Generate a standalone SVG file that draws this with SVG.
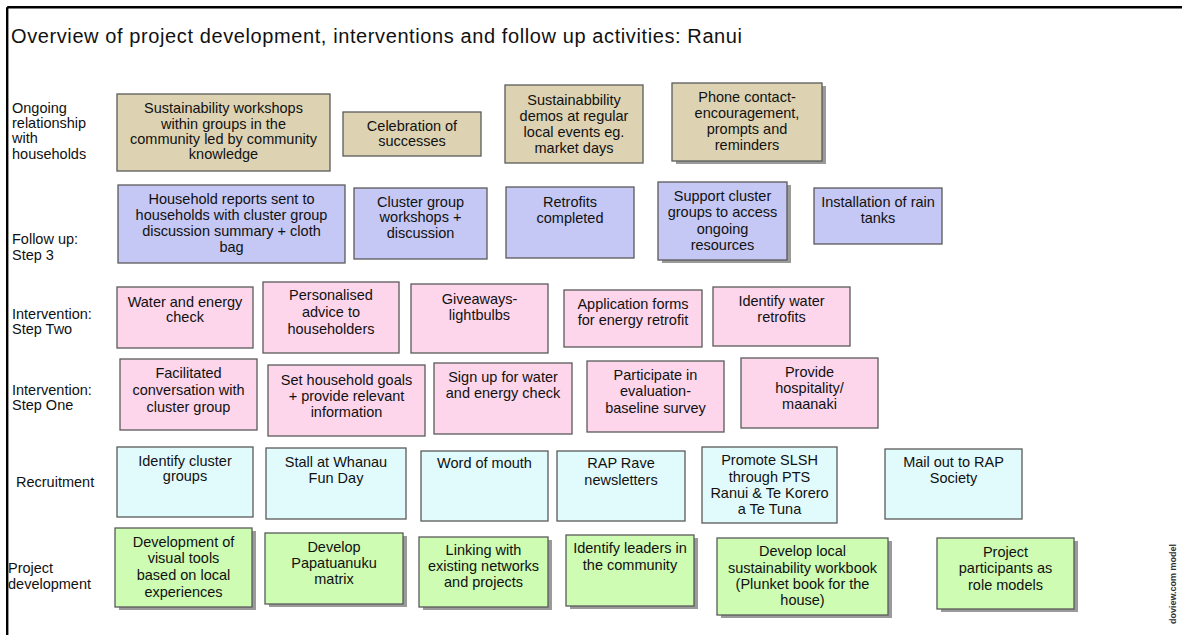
<svg xmlns="http://www.w3.org/2000/svg" width="1182" height="635" viewBox="0 0 1182 635">
<style>
text{font-family:"Liberation Sans",Arial,sans-serif;font-size:14.5px;fill:#111}
.box text{text-anchor:middle}
.box rect{stroke:#5a5a5a;stroke-width:1.3}
.sh{fill:#9a9a9a;stroke:none!important}
.tan rect.f{fill:#ddd3b3}
.lav rect.f{fill:#c5c7f4}
.pink rect.f{fill:#fdd6ec}
.cyan rect.f{fill:#e1fbfd}
.green rect.f{fill:#cdfcb2}
.lab{font-size:14.5px}
.title{font-size:20px}
.wm{font-size:9px;font-weight:bold;fill:#333}
</style>
<rect x="0" y="0" width="1182" height="635" fill="#fff"/>
<g id="frame">
<line x1="7.2" y1="7.2" x2="1182" y2="7.2" stroke="#000" stroke-width="2.4"/>
<line x1="7.2" y1="7.2" x2="7.2" y2="635" stroke="#000" stroke-width="2.4"/>
</g>
<text class="title" x="11" y="43" textLength="731" lengthAdjust="spacing">Overview of project development, interventions and follow up activities: Ranui</text>
<g id="labels">
<text class="lab" x="12" y="113">Ongoing</text>
<text class="lab" x="12" y="128">relationship</text>
<text class="lab" x="12" y="143">with</text>
<text class="lab" x="12" y="159">households</text>
<text class="lab" x="12" y="244">Follow up:</text>
<text class="lab" x="12" y="260">Step 3</text>
<text class="lab" x="12" y="319">Intervention:</text>
<text class="lab" x="12" y="334">Step Two</text>
<text class="lab" x="12" y="395">Intervention:</text>
<text class="lab" x="12" y="410">Step One</text>
<text class="lab" x="16" y="487">Recruitment</text>
<text class="lab" x="8" y="573">Project</text>
<text class="lab" x="8" y="589">development</text>
</g>
<g id="connectors"></g>

<!-- Row 1 -->
<g id="r1b1" class="box tan"><rect class="f" x="117" y="94" width="213" height="77"/><text x="223.5" y="113">Sustainability workshops</text><text x="223.5" y="129">within groups in the</text><text x="223.5" y="144">community led by community</text><text x="223.5" y="159">knowledge</text></g>
<g id="r1b2" class="box tan"><rect class="f" x="343" y="112" width="138" height="44"/><text x="412" y="131">Celebration of</text><text x="412" y="146">successes</text></g>
<g id="r1b3" class="box tan"><rect class="f" x="505" y="85" width="138" height="78"/><text x="574" y="105">Sustainabbility</text><text x="574" y="121">demos at regular</text><text x="574" y="137">local events eg.</text><text x="574" y="153">market days</text></g>
<g id="r1b4" class="box tan"><rect class="sh" x="676" y="86" width="150" height="78"/><rect class="f" x="672" y="83" width="150" height="78"/><text x="747" y="102">Phone contact-</text><text x="747" y="118">encouragement,</text><text x="747" y="134">prompts and</text><text x="747" y="150">reminders</text></g>

<!-- Row 2 -->
<g id="r2b1" class="box lav"><rect class="f" x="118" y="185" width="227" height="78"/><text x="231.5" y="204">Household reports sent to</text><text x="231.5" y="220">households with cluster group</text><text x="231.5" y="236">discussion summary + cloth</text><text x="231.5" y="252">bag</text></g>
<g id="r2b2" class="box lav"><rect class="f" x="354" y="188" width="133" height="71"/><text x="420.5" y="207">Cluster group</text><text x="420.5" y="222">workshops +</text><text x="420.5" y="238">discussion</text></g>
<g id="r2b3" class="box lav"><rect class="f" x="506" y="187" width="128" height="71"/><text x="570" y="207">Retrofits</text><text x="570" y="223">completed</text></g>
<g id="r2b4" class="box lav"><rect class="sh" x="662" y="185" width="129" height="78"/><rect class="f" x="658" y="182" width="129" height="78"/><text x="722.5" y="201">Support cluster</text><text x="722.5" y="217">groups to access</text><text x="722.5" y="234">ongoing</text><text x="722.5" y="250">resources</text></g>
<g id="r2b5" class="box lav"><rect class="f" x="814" y="188" width="128" height="56"/><text x="878" y="207">Installation of rain</text><text x="878" y="223">tanks</text></g>

<!-- Row 3 -->
<g id="r3b1" class="box pink"><rect class="f" x="117" y="287" width="136" height="61"/><text x="185" y="307">Water and energy</text><text x="185" y="322">check</text></g>
<g id="r3b2" class="box pink"><rect class="f" x="263" y="282" width="136" height="71"/><text x="331" y="300">Personalised</text><text x="331" y="317">advice to</text><text x="331" y="334">householders</text></g>
<g id="r3b3" class="box pink"><rect class="f" x="411" y="284" width="137" height="69"/><text x="479.5" y="304">Giveaways-</text><text x="479.5" y="320">lightbulbs</text></g>
<g id="r3b4" class="box pink"><rect class="f" x="564" y="290" width="138" height="57"/><text x="633" y="309">Application forms</text><text x="633" y="325">for energy retrofit</text></g>
<g id="r3b5" class="box pink"><rect class="f" x="713" y="287" width="137" height="59"/><text x="781.5" y="306">Identify water</text><text x="781.5" y="322">retrofits</text></g>

<!-- Row 4 -->
<g id="r4b1" class="box pink"><rect class="f" x="120" y="359" width="137" height="71"/><text x="188.5" y="378">Facilitated</text><text x="188.5" y="395">conversation with</text><text x="188.5" y="412">cluster group</text></g>
<g id="r4b2" class="box pink"><rect class="f" x="268" y="365" width="157" height="71"/><text x="346.5" y="385">Set household goals</text><text x="346.5" y="401">+ provide relevant</text><text x="346.5" y="417">information</text></g>
<g id="r4b3" class="box pink"><rect class="f" x="434" y="363" width="138" height="71"/><text x="503" y="382">Sign up for water</text><text x="503" y="398">and energy check</text></g>
<g id="r4b4" class="box pink"><rect class="f" x="587" y="361" width="137" height="71"/><text x="655.5" y="380">Participate in</text><text x="655.5" y="396">evaluation-</text><text x="655.5" y="413">baseline survey</text></g>
<g id="r4b5" class="box pink"><rect class="f" x="741" y="358" width="137" height="70"/><text x="809.5" y="377">Provide</text><text x="809.5" y="393">hospitality/</text><text x="809.5" y="409">maanaki</text></g>

<!-- Row 5 -->
<g id="r5b1" class="box cyan"><rect class="f" x="117" y="447" width="136" height="70"/><text x="185" y="466">Identify cluster</text><text x="185" y="481">groups</text></g>
<g id="r5b2" class="box cyan"><rect class="f" x="266" y="448" width="140" height="71"/><text x="336" y="467">Stall at Whanau</text><text x="336" y="483">Fun Day</text></g>
<g id="r5b3" class="box cyan"><rect class="f" x="421" y="451" width="127" height="70"/><text x="484.5" y="468">Word of mouth</text></g>
<g id="r5b4" class="box cyan"><rect class="f" x="557" y="451" width="128" height="70"/><text x="621" y="468">RAP Rave</text><text x="621" y="485">newsletters</text></g>
<g id="r5b5" class="box cyan"><rect class="f" x="702" y="447" width="135" height="76"/><text x="769.5" y="465">Promote SLSH</text><text x="769.5" y="482">through PTS</text><text x="769.5" y="498">Ranui &amp; Te Korero</text><text x="769.5" y="514">a Te Tuna</text></g>
<g id="r5b6" class="box cyan"><rect class="f" x="885" y="449" width="137" height="70"/><text x="953.5" y="467">Mail out to RAP</text><text x="953.5" y="483">Society</text></g>

<!-- Row 6 -->
<g id="r6b1" class="box green"><rect class="sh" x="119" y="531" width="137" height="79"/><rect class="f" x="115" y="528" width="137" height="79"/><text x="183.5" y="547">Development of</text><text x="183.5" y="563">visual tools</text><text x="183.5" y="580">based on local</text><text x="183.5" y="597">experiences</text></g>
<g id="r6b2" class="box green"><rect class="sh" x="269" y="536" width="138" height="71"/><rect class="f" x="265" y="533" width="138" height="71"/><text x="334" y="552">Develop</text><text x="334" y="568">Papatuanuku</text><text x="334" y="584">matrix</text></g>
<g id="r6b3" class="box green"><rect class="sh" x="423" y="540" width="129" height="70"/><rect class="f" x="419" y="537" width="129" height="70"/><text x="483.5" y="555">Linking with</text><text x="483.5" y="571">existing networks</text><text x="483.5" y="587">and projects</text></g>
<g id="r6b4" class="box green"><rect class="sh" x="570" y="538" width="128" height="71"/><rect class="f" x="566" y="535" width="128" height="71"/><text x="630" y="553">Identify leaders in</text><text x="630" y="570">the community</text></g>
<g id="r6b5" class="box green"><rect class="sh" x="721" y="541" width="171" height="77"/><rect class="f" x="717" y="538" width="171" height="77"/><text x="802.5" y="556">Develop local</text><text x="802.5" y="573">sustainability workbook</text><text x="802.5" y="589">(Plunket book for the</text><text x="802.5" y="605">house)</text></g>
<g id="r6b6" class="box green"><rect class="sh" x="941" y="541" width="137" height="71"/><rect class="f" x="937" y="538" width="137" height="71"/><text x="1005.5" y="557">Project</text><text x="1005.5" y="573">participants as</text><text x="1005.5" y="590">role models</text></g>

<text class="wm" transform="translate(1176,584) rotate(-90)" text-anchor="middle">doview.com model</text>
</svg>
